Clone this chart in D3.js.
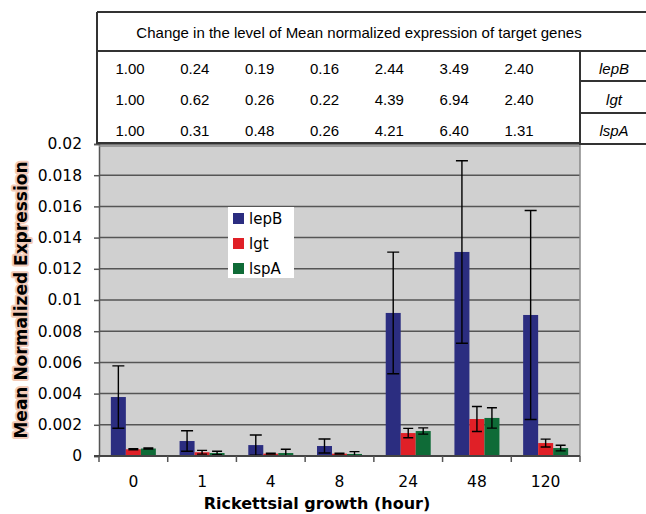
<!DOCTYPE html>
<html>
<head>
<meta charset="utf-8">
<script src="https://cdn.jsdelivr.net/npm/d3@7"></script>
<style>
  body { margin: 0; background: #fff; }
  svg { display: block; }
</style>
</head>
<body>
<div id="content"></div>
<script>
// categories and series
var hours = ["0", "1", "4", "8", "24", "48", "120"];
var genes = ["lepB", "lgt", "lspA"];
var lepB = [0.00378, 0.00096, 0.00070, 0.00064, 0.00917, 0.01308, 0.00904];
var lgt = [0.00043, 0.00024, 0.00015, 0.00015, 0.00147, 0.00237, 0.00083];
var lspA = [0.00048, 0.00019, 0.00019, 0.00013, 0.00160, 0.00244, 0.00051];
var lepBErr = [0.00200, 0.00066, 0.00065, 0.00045, 0.00390, 0.00585, 0.00670];
var lgtErr = [0.00004, 0.00012, 0.00003, 0.00003, 0.00030, 0.00080, 0.00025];
var lspAErr = [0.00004, 0.00011, 0.00024, 0.00015, 0.00020, 0.00065, 0.00018];

// fold change table
var foldLepB = ["1.00", "0.24", "0.19", "0.16", "2.44", "3.49", "2.40"];
var foldLgt = ["1.00", "0.62", "0.26", "0.22", "4.39", "6.94", "2.40"];
var foldLspA = ["1.00", "0.31", "0.48", "0.26", "4.21", "6.40", "1.31"];
var tableTitle = "Change in the level of Mean normalized expression of target genes";

var yTicks = [0, 0.002, 0.004, 0.006, 0.008, 0.01, 0.012, 0.014, 0.016, 0.018, 0.02];
var colors = ["#2b2d80", "#e02027", "#0f6b37"];

(function() {
var W = 646, H = 514;
var pl = 99, pr = 580, pt = 144, pb = 456;

var svg = d3.select("#content").append("svg").attr("width", W).attr("height", H);

var x = d3.scaleBand().domain(hours).range([pl, pr]);
var xs = d3.scaleBand().domain(genes).range([0, 45]);
var y = d3.scaleLinear().domain([0, 0.02]).range([pb, pt]);

// plot background
svg.append("rect").attr("x", pl).attr("y", pt).attr("width", pr - pl).attr("height", pb - pt)
  .attr("fill", "#d0d0d0");

// gridlines
svg.append("g").selectAll("line").data(yTicks.slice(1)).enter().append("line")
  .attr("x1", pl).attr("x2", pr)
  .attr("y1", function(d) { return y(d); }).attr("y2", function(d) { return y(d); })
  .attr("stroke", "#555").attr("stroke-width", 1.5);

// right border of plot
svg.append("line").attr("x1", pr).attr("x2", pr).attr("y1", pt).attr("y2", pb)
  .attr("stroke", "#888").attr("stroke-width", 1.5);

// bars
var series = [
  { name: "lepB", values: lepB, err: lepBErr },
  { name: "lgt", values: lgt, err: lgtErr },
  { name: "lspA", values: lspA, err: lspAErr }
];

function barX(gene, hour) { return x(hour) + x.bandwidth() / 2 - 22.5 + xs(gene); }

var groups = svg.append("g").selectAll("g").data(series).enter().append("g")
  .attr("fill", function(d, i) { return colors[i]; });

groups.selectAll("rect").data(function(s) {
    return s.values.map(function(v, i) { return { gene: s.name, hour: hours[i], v: v }; });
  }).enter().append("rect")
  .attr("x", function(d) { return barX(d.gene, d.hour); })
  .attr("width", xs.bandwidth())
  .attr("y", function(d) { return y(d.v); })
  .attr("height", function(d) { return pb - y(d.v); });

// error bars
var errs = [];
series.forEach(function(s) {
  s.values.forEach(function(v, i) {
    errs.push({ cx: barX(s.name, hours[i]) + xs.bandwidth() / 2, v: v, e: s.err[i], big: s.name === "lepB" });
  });
});
var eg = svg.append("g").attr("stroke", "#000").attr("stroke-width", 1.4).attr("fill", "none");
eg.selectAll("path").data(errs).enter().append("path")
  .attr("d", function(d) {
    var hw = d.big ? 6 : 5;
    var y1 = y(d.v + d.e), y0 = y(Math.max(0, d.v - d.e));
    return "M" + d.cx + "," + y1 + "V" + y0 +
      "M" + (d.cx - hw) + "," + y1 + "H" + (d.cx + hw) +
      "M" + (d.cx - hw) + "," + y0 + "H" + (d.cx + hw);
  });

// axes
var yAxis = d3.axisLeft(y).tickValues(yTicks)
  .tickFormat(function(d) { return d === 0 ? "0" : String(+d.toFixed(3)); })
  .tickSize(5).tickPadding(12);
var gy = svg.append("g").attr("transform", "translate(" + pl + ",0)").call(yAxis);
gy.select(".domain").attr("stroke", "#555").attr("stroke-width", 1.5);
gy.selectAll(".tick line").attr("stroke", "#555").attr("stroke-width", 1.5);
gy.selectAll("text").attr("font-family", "DejaVu Sans").attr("font-size", "15.5px").attr("fill", "#000");

var gx = svg.append("g").attr("transform", "translate(0," + pb + ")");
gx.append("line").attr("x1", pl - 5).attr("x2", pr).attr("stroke", "#444").attr("stroke-width", 2);
gx.selectAll("line.tk").data(d3.range(hours.length + 1)).enter().append("line")
  .attr("class", "tk")
  .attr("x1", function(i) { return pl + i * x.step(); }).attr("x2", function(i) { return pl + i * x.step(); })
  .attr("y1", 0).attr("y2", 6).attr("stroke", "#555").attr("stroke-width", 1.5);
gx.selectAll("text").data(hours).enter().append("text")
  .attr("x", function(d) { return x(d) + x.bandwidth() / 2; }).attr("y", 31)
  .attr("text-anchor", "middle").attr("font-family", "DejaVu Sans").attr("font-size", "15.5px")
  .text(function(d) { return d; });

// axis titles
svg.append("text").attr("x", 317).attr("y", 509).attr("text-anchor", "middle")
  .attr("font-family", "DejaVu Sans").attr("font-weight", "bold").attr("font-size", "16px")
  .text("Rickettsial growth (hour)");

var yl = svg.append("g").attr("transform", "translate(27,300) rotate(-90)");
yl.append("text").attr("text-anchor", "middle")
  .attr("font-family", "DejaVu Sans").attr("font-weight", "bold").attr("font-size", "17px")
  .attr("stroke", "#f3cbb8").attr("stroke-width", 4).attr("stroke-linejoin", "round").attr("fill", "#f3cbb8")
  .text("Mean Normalized Expression");
yl.append("text").attr("text-anchor", "middle")
  .attr("font-family", "DejaVu Sans").attr("font-weight", "bold").attr("font-size", "17px")
  .attr("fill", "#000")
  .text("Mean Normalized Expression");

// legend
var lg = svg.append("g").attr("transform", "translate(228,207)");
lg.append("rect").attr("width", 66).attr("height", 71).attr("fill", "#fff");
lg.selectAll("rect.sw").data(genes).enter().append("rect")
  .attr("class", "sw")
  .attr("x", 5).attr("y", function(d, i) { return 6 + i * 25; })
  .attr("width", 11).attr("height", 11).attr("fill", function(d, i) { return colors[i]; });
lg.selectAll("text").data(genes).enter().append("text")
  .attr("x", 21).attr("y", function(d, i) { return 17 + i * 25; })
  .attr("font-family", "DejaVu Sans").attr("font-size", "15px").text(function(d) { return d; });

// table
var tb = svg.append("g").attr("font-family", "Liberation Sans, Arial").attr("font-size", "15px");
var rowsY = [69, 100, 131];
var colX = d3.scalePoint().domain(hours).range([130, 519]);
[foldLepB, foldLgt, foldLspA].forEach(function(row, r) {
  tb.selectAll("text.r" + r).data(row).enter().append("text")
    .attr("class", "r" + r)
    .attr("x", function(d, i) { return colX(hours[i]); }).attr("y", rowsY[r] + 5)
    .attr("text-anchor", "middle").text(function(d) { return d; });
  tb.append("text").attr("x", 614).attr("y", rowsY[r] + 5).attr("text-anchor", "middle")
    .attr("font-style", "italic").text(genes[r]);
});
tb.append("text").attr("x", 359).attr("y", 38).attr("text-anchor", "middle").text(tableTitle);

var border = svg.append("g").attr("stroke", "#333").attr("stroke-width", 2).attr("fill", "none");
border.append("path").attr("d",
  "M97,12H646" +
  "M97,12V144" +
  "M97,51H646" +
  "M580,51V145" +
  "M580,81H646" +
  "M580,113H646" +
  "M97,143H580" +
  "M580,144H646");
border.append("path").attr("d", "M99,146H580").attr("stroke", "#888").attr("stroke-width", 1.5);
})();
</script>
</body>
</html>
